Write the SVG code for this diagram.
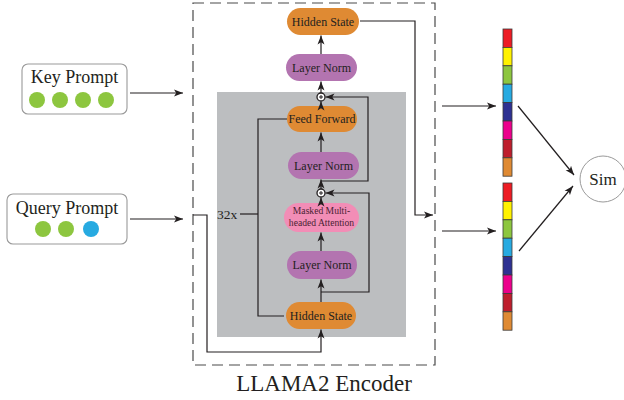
<svg xmlns="http://www.w3.org/2000/svg" width="624" height="400" viewBox="0 0 624 400">
  <style>
    .txt { font-family: "Liberation Serif", "Times New Roman", serif; fill: #231f20; }
    .node-txt { font-size: 12px; text-anchor: middle; }
    .orange { fill: #df8a33; }
    .purple { fill: #b374b0; }
    .pink { fill: #f28db6; }
    .wire { fill: none; stroke: #231f20; stroke-width: 1.2; }
    .prompt { fill: #ffffff; stroke: #9a9a9a; stroke-width: 1.1; }
    .seg { stroke: #3a3a3a; stroke-width: 0.8; }
  </style>
  <defs>
    <marker id="arrow" markerUnits="userSpaceOnUse" markerWidth="10" markerHeight="8" refX="9" refY="4" orient="auto">
      <path d="M0,0.5 L9,4 L0,7.5 L2.2,4 Z" fill="#231f20"/>
    </marker>
  </defs>

  <rect width="624" height="400" fill="#ffffff"/>

  <!-- encoder frame and repeated block background -->
  <rect id="encoder-frame" x="193" y="3" width="242" height="362" fill="none" stroke="#4a4a4a" stroke-width="1.2" stroke-dasharray="11 6"/>
  <rect id="block-bg" x="217" y="92" width="189" height="245" fill="#bcbec0"/>

  <!-- input prompts -->
  <g id="key-prompt">
    <rect class="prompt" x="22" y="64" width="105" height="50" rx="6"/>
    <text class="txt" x="74.5" y="83" font-size="18" text-anchor="middle">Key Prompt</text>
    <circle cx="37" cy="100" r="8" fill="#8dc63f"/>
    <circle cx="60" cy="100" r="8" fill="#8dc63f"/>
    <circle cx="83" cy="100" r="8" fill="#8dc63f"/>
    <circle cx="106" cy="100" r="8" fill="#8dc63f"/>
  </g>
  <g id="query-prompt">
    <rect class="prompt" x="7" y="194" width="120" height="50" rx="6"/>
    <text class="txt" x="67" y="214" font-size="18" text-anchor="middle">Query Prompt</text>
    <circle cx="43" cy="229" r="8" fill="#8dc63f"/>
    <circle cx="66" cy="229" r="8" fill="#8dc63f"/>
    <circle cx="91" cy="229" r="8" fill="#27aae1"/>
  </g>

  <!-- encoder nodes -->
  <g id="hidden-state-out">
    <rect class="orange" x="287" y="8" width="72" height="27" rx="13.5"/>
    <text class="txt node-txt" x="323" y="25.5">Hidden State</text>
  </g>
  <g id="layer-norm-final">
    <rect class="purple" x="286" y="54" width="71" height="27" rx="13.5"/>
    <text class="txt node-txt" x="321.5" y="71.5">Layer Norm</text>
  </g>
  <g id="feed-forward">
    <rect class="orange" x="287" y="106" width="70" height="26" rx="13"/>
    <text class="txt node-txt" x="322" y="123">Feed Forward</text>
  </g>
  <g id="layer-norm-ffn">
    <rect class="purple" x="288" y="152" width="71" height="27" rx="13.5"/>
    <text class="txt node-txt" x="323.5" y="169.5">Layer Norm</text>
  </g>
  <g id="masked-attention">
    <rect class="pink" x="284" y="203" width="75" height="29" rx="14.5"/>
    <text class="txt" x="321.5" y="214" font-size="9.6" text-anchor="middle" fill="#4a1f33" style="fill:#4a1f33">Masked Multi-</text>
    <text class="txt" x="321.5" y="226" font-size="9.6" text-anchor="middle" style="fill:#4a1f33">headed Attention</text>
  </g>
  <g id="layer-norm-attn">
    <rect class="purple" x="287" y="251" width="70" height="28" rx="14"/>
    <text class="txt node-txt" x="322" y="269">Layer Norm</text>
  </g>
  <g id="hidden-state-in">
    <rect class="orange" x="286" y="302" width="70" height="27" rx="13.5"/>
    <text class="txt node-txt" x="321" y="319.5">Hidden State</text>
  </g>

  <!-- residual adders -->
  <g id="add-ffn">
    <circle cx="321" cy="97" r="4" fill="#ffffff" stroke="#231f20" stroke-width="1.3"/>
    <path d="M319,97 H323 M321,95 V99" stroke="#231f20" stroke-width="1"/>
  </g>
  <g id="add-attn">
    <circle cx="321" cy="193" r="4" fill="#ffffff" stroke="#231f20" stroke-width="1.3"/>
    <path d="M319,193 H323 M321,191 V195" stroke="#231f20" stroke-width="1"/>
  </g>

  <!-- output embeddings -->
  <g id="key-embedding" class="seg">
    <rect x="503" y="29" width="9" height="18.4" fill="#ed1c24"/>
    <rect x="503" y="47.4" width="9" height="18.4" fill="#fff200"/>
    <rect x="503" y="65.8" width="9" height="18.4" fill="#8dc63f"/>
    <rect x="503" y="84.2" width="9" height="18.4" fill="#27aae1"/>
    <rect x="503" y="102.6" width="9" height="18.4" fill="#2e3192"/>
    <rect x="503" y="121" width="9" height="18.4" fill="#ec008c"/>
    <rect x="503" y="139.4" width="9" height="18.4" fill="#be1e2d"/>
    <rect x="503" y="157.8" width="9" height="18.4" fill="#df8a33"/>
  </g>
  <g id="query-embedding" class="seg">
    <rect x="503" y="183" width="9" height="18.4" fill="#ed1c24"/>
    <rect x="503" y="201.4" width="9" height="18.4" fill="#fff200"/>
    <rect x="503" y="219.8" width="9" height="18.4" fill="#8dc63f"/>
    <rect x="503" y="238.2" width="9" height="18.4" fill="#27aae1"/>
    <rect x="503" y="256.6" width="9" height="18.4" fill="#2e3192"/>
    <rect x="503" y="275" width="9" height="18.4" fill="#ec008c"/>
    <rect x="503" y="293.4" width="9" height="18.4" fill="#be1e2d"/>
    <rect x="503" y="311.8" width="9" height="18.4" fill="#df8a33"/>
  </g>

  <g id="sim">
    <circle cx="603" cy="179" r="23" fill="#ffffff" stroke="#9a9a9a" stroke-width="1"/>
    <text class="txt" x="603" y="185" font-size="17" text-anchor="middle">Sim</text>
  </g>

  <!-- labels -->
  <text class="txt" x="217" y="219" font-size="13.5">32x</text>
  <text class="txt" x="324" y="391" font-size="23" text-anchor="middle">LLAMA2 Encoder</text>

  <!-- connectors -->
  <g id="connectors" class="wire">
    <path d="M130,93 H183" marker-end="url(#arrow)"/>
    <path d="M130,219 H183" marker-end="url(#arrow)"/>
    <path d="M193,215 H207 V352 H321 V329.5" marker-end="url(#arrow)"/>

    <path d="M321,302 V279.5" marker-end="url(#arrow)"/>
    <path d="M321,292 H369 V193 H325.5" marker-end="url(#arrow)"/>
    <path d="M321,251 V232.5" marker-end="url(#arrow)"/>
    <path d="M321,203 V197.5" marker-end="url(#arrow)"/>
    <path d="M321,189 V179.5" marker-end="url(#arrow)"/>
    <path d="M321,181 H368 V97 H325.5" marker-end="url(#arrow)"/>
    <path d="M321,152 V132.5" marker-end="url(#arrow)"/>
    <path d="M321,106 V101.5" marker-end="url(#arrow)"/>
    <path d="M321,93 V81.5" marker-end="url(#arrow)"/>
    <path d="M321,54 V35.5" marker-end="url(#arrow)"/>

    <path d="M284,316 H258 V119 H287"/>
    <path d="M240,214 H258"/>

    <path d="M360,21 H415 V215 H433" marker-end="url(#arrow)"/>
    <path d="M442,106 H496" marker-end="url(#arrow)"/>
    <path d="M442,231 H496" marker-end="url(#arrow)"/>
    <path d="M518,106 L574,175" marker-end="url(#arrow)"/>
    <path d="M519,251 L573,186" marker-end="url(#arrow)"/>
  </g>
</svg>
